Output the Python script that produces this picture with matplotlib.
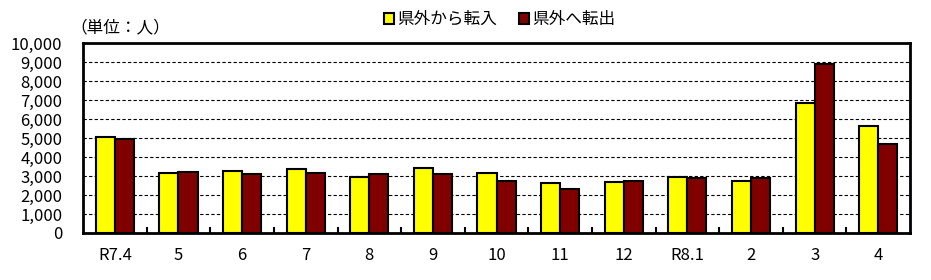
import matplotlib
matplotlib.use("Agg")
import matplotlib.pyplot as plt
import numpy as np
from matplotlib.patches import Patch
from matplotlib.ticker import FuncFormatter, FixedLocator

plt.rcParams['font.family'] = ['Noto Sans CJK JP', 'DejaVu Sans']

categories = ["R7.4", "5", "6", "7", "8", "9", "10", "11", "12", "R8.1", "2", "3", "4"]
tennyu = [5080, 3175, 3265, 3370, 2945, 3420, 3175, 2645, 2700, 2945, 2750, 6830, 5610]
tenshutsu = [4960, 3230, 3125, 3175, 3125, 3125, 2750, 2330, 2750, 2910, 2910, 8890, 4660]
series_names = ["県外から転入", "県外へ転出"]
unit_label = "（単位：人）"

fig = plt.figure(figsize=(9.31, 2.80), dpi=100)
ax = fig.add_axes([0.0892, 0.168, 0.8883, 0.678])

x = np.arange(len(categories))
w = 0.3
ax.bar(x - w/2, tennyu, width=w, color="#FFFF00", edgecolor="black", linewidth=1.5, zorder=3)
ax.bar(x + w/2, tenshutsu, width=w, color="#800000", edgecolor="black", linewidth=1.5, zorder=3)

ax.set_xlim(-0.5, len(categories) - 0.5)
ax.set_ylim(0, 10000)
ax.set_yticks(np.arange(0, 10001, 1000))
ax.yaxis.set_major_formatter(FuncFormatter(lambda v, p: f"{int(v):,}"))
ax.yaxis.grid(True, linestyle=(0, (3, 2)), color="black", linewidth=0.8, zorder=0)
ax.set_axisbelow(True)
ax.tick_params(axis="y", length=0, labelsize=12, pad=15)

ax.set_xticks(x)
ax.set_xticklabels(categories, fontsize=12)
ax.tick_params(axis="x", length=0, pad=10)
ax.xaxis.set_minor_locator(FixedLocator(np.arange(0.5, len(categories) - 1, 1)))
ax.tick_params(axis="x", which="minor", direction="in", length=4, width=1.5, color="black")

for s in ax.spines.values():
    s.set_linewidth(2)
    s.set_color("black")

fig.text(0.076, 0.90, unit_label, fontsize=12, ha="left", va="center")

handles = [Patch(facecolor="#FFFF00", edgecolor="black", linewidth=1.5),
           Patch(facecolor="#800000", edgecolor="black", linewidth=1.5)]
fig.legend(handles, series_names, loc="center", bbox_to_anchor=(0.537, 0.93), ncol=2,
           frameon=False, fontsize=12, handlelength=0.6, handleheight=0.6,
           handletextpad=0.2, columnspacing=1.3)

fig.savefig("out.png", dpi=100)
